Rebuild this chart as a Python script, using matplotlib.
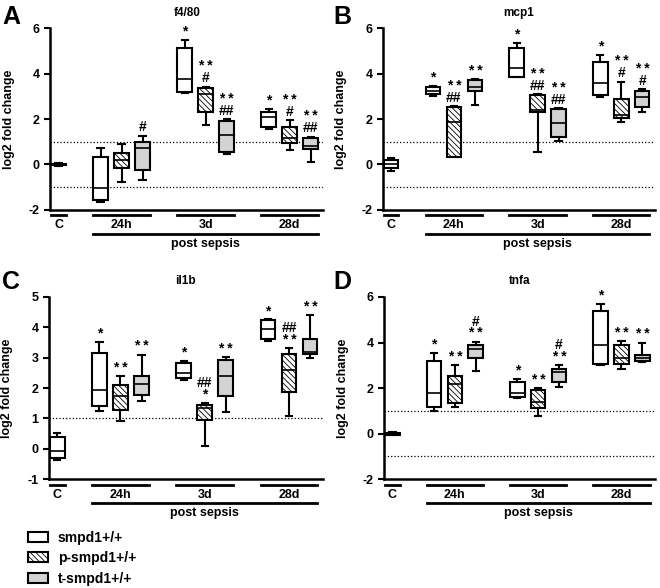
import matplotlib
matplotlib.use('Agg')
import matplotlib.pyplot as plt
import matplotlib.transforms as mtransforms
from matplotlib.patches import Patch

plt.rcParams['font.family'] = ['Liberation Sans', 'DejaVu Sans']
plt.rcParams['font.weight'] = 'bold'
plt.rcParams['hatch.linewidth'] = 0.6
plt.rcParams['axes.unicode_minus'] = False

# box order: C, 24h (wt, p, t), 3d (wt, p, t), 28d (wt, p, t)
# each entry: (whisker low, q1, median, q3, whisker high)
positions = [0, 2, 3, 4, 6, 7, 8, 10, 11, 12]
kinds = ['w', 'w', 'p', 't', 'w', 'p', 't', 'w', 'p', 't']

f480 = [(-0.06, -0.04, 0.0, 0.04, 0.06),
        (-1.63, -1.56, -1.05, 0.32, 0.72),
        (-0.75, -0.14, 0.20, 0.52, 0.91),
        (-0.68, -0.24, 0.72, 0.98, 1.26),
        (3.14, 3.21, 3.75, 5.12, 5.49),
        (1.73, 2.29, 3.09, 3.36, 3.43),
        (0.47, 0.57, 1.30, 1.90, 2.00),
        (1.55, 1.67, 2.08, 2.33, 2.43),
        (0.62, 0.94, 1.18, 1.66, 1.95),
        (0.10, 0.67, 0.83, 1.18, 1.23)]
f480_notes = ['', '', '', '#', '*', '**\n#', '**\n##', '*', '**\n#', '**\n##']

mcp1 = [(-0.27, -0.17, 0.03, 0.20, 0.27),
        (3.03, 3.09, 3.25, 3.40, 3.46),
        (0.32, 0.35, 1.89, 2.52, 2.58),
        (2.62, 3.25, 3.40, 3.72, 3.75),
        (3.84, 3.87, 4.27, 5.12, 5.34),
        (0.57, 2.33, 2.40, 3.06, 3.09),
        (1.05, 1.23, 1.82, 2.43, 2.48),
        (2.99, 3.06, 3.58, 4.53, 4.83),
        (1.85, 2.04, 2.18, 2.87, 3.65),
        (2.29, 2.52, 2.99, 3.25, 3.31)]
mcp1_notes = ['', '*', '**\n##', '**', '*', '**\n##', '**\n##', '*', '**\n#', '**\n#']

il1b = [(-0.37, -0.31, -0.07, 0.40, 0.51),
        (1.25, 1.41, 1.93, 3.14, 3.52),
        (0.92, 1.28, 1.74, 2.10, 2.39),
        (1.58, 1.77, 2.12, 2.39, 3.10),
        (2.26, 2.32, 2.50, 2.81, 2.90),
        (0.10, 0.95, 1.36, 1.44, 1.50),
        (1.22, 1.75, 2.39, 2.94, 3.01),
        (3.55, 3.60, 3.96, 4.23, 4.26),
        (1.09, 1.88, 2.59, 3.12, 3.32),
        (3.00, 3.12, 3.19, 3.60, 4.40)]
il1b_notes = ['', '*', '**', '**', '*', '##\n*', '**', '*', '##\n**', '**']

tnfa = [(-0.06, -0.04, 0.0, 0.04, 0.06),
        (1.00, 1.15, 1.80, 3.20, 3.55),
        (1.18, 1.33, 2.16, 2.53, 3.00),
        (2.74, 3.30, 3.71, 3.88, 4.03),
        (1.56, 1.59, 1.77, 2.27, 2.39),
        (0.77, 1.11, 1.37, 1.91, 1.99),
        (2.06, 2.25, 2.69, 2.85, 3.00),
        (3.00, 3.04, 3.88, 5.39, 5.68),
        (2.83, 3.04, 3.30, 3.88, 4.06),
        (3.15, 3.20, 3.34, 3.45, 3.99)]
tnfa_notes = ['', '*', '**', '#\n**', '*', '**', '#\n**', '*', '**', '**']

groups = [('C', -0.35, 0.35), ('24h', 1.65, 4.35), ('3d', 5.65, 8.35), ('28d', 9.65, 12.35)]
legend_labels = ['smpd1+/+', 'p-smpd1+/+', 't-smpd1+/+']

HATCH = '\\\\\\\\\\\\'
fill = {'w': ('white', None), 'p': ('white', HATCH), 't': ('#d3d3d3', None)}


def draw_panel(rect, stats, notes, ylim, yticks, title, letter, letter_xy, dotted):
    ax = fig.add_axes(rect)
    bstats = [{'whislo': s[0], 'q1': s[1], 'med': s[2], 'q3': s[3], 'whishi': s[4],
               'fliers': []} for s in stats]
    bp = ax.bxp(bstats, positions=positions, widths=0.7, patch_artist=True,
                showfliers=False, capwidths=0.3,
                boxprops=dict(linewidth=1.5, edgecolor='black'),
                medianprops=dict(color='black', linewidth=1.2),
                whiskerprops=dict(linewidth=1.5, color='black'),
                capprops=dict(linewidth=1.5, color='black'))
    for box, k in zip(bp['boxes'], kinds):
        fc, h = fill[k]
        box.set_facecolor(fc)
        if h:
            box.set_hatch(h)
    for x, s, n in zip(positions, stats, notes):
        if n:
            ax.annotate(n.replace('**', '* *'), (x, s[4]), xytext=(0, 1),
                        textcoords='offset points', ha='center', va='bottom',
                        fontsize=10, linespacing=0.8)
    for d in dotted:
        ax.axhline(d, ls=':', color='black', lw=0.9, zorder=0)

    ax.set_xlim(-0.4, 12.6)
    ax.set_ylim(*ylim)
    ax.set_yticks(yticks)
    ax.set_xticks([])
    ax.spines['top'].set_visible(False)
    ax.spines['right'].set_visible(False)
    ax.spines['left'].set_linewidth(1.8)
    ax.spines['bottom'].set_linewidth(1.8)
    ax.tick_params(axis='y', labelsize=9, width=1.5, length=4)
    ax.set_ylabel('log2 fold change', fontsize=9, fontweight='bold')
    ax.yaxis.set_label_coords(-0.13, 0.5)
    ax.set_title(title, fontsize=8.5, fontweight='bold', pad=9)

    trans = mtransforms.blended_transform_factory(ax.transData, ax.transAxes)
    for name, x0, x1 in groups:
        ax.plot([x0, x1], [-0.03, -0.03], transform=trans, clip_on=False,
                color='black', lw=2)
        ax.text((x0 + x1) / 2, -0.085, name, transform=trans, ha='center',
                va='center', fontsize=9)
    ax.plot([1.65, 12.35], [-0.13, -0.13], transform=trans, clip_on=False,
            color='black', lw=2)
    ax.text(7, -0.185, 'post sepsis', transform=trans, ha='center', va='center',
            fontsize=9)
    fig.text(letter_xy[0], letter_xy[1], letter, fontsize=18, fontweight='bold',
             va='top', ha='left')
    return ax


fig = plt.figure(figsize=(6.6, 5.88), dpi=100)

draw_panel([0.076, 0.643, 0.414, 0.309], f480, f480_notes, (-2, 6), [-2, 0, 2, 4, 6],
           'f4/80', 'A', (0.003, 0.992), [1, -1])
draw_panel([0.580, 0.643, 0.412, 0.309], mcp1, mcp1_notes, (-2, 6), [-2, 0, 2, 4, 6],
           'mcp1', 'B', (0.505, 0.992), [1, -1])
draw_panel([0.074, 0.185, 0.415, 0.310], il1b, il1b_notes, (-1, 5), [-1, 0, 1, 2, 3, 4, 5],
           'il1b', 'C', (0.003, 0.541), [1])
draw_panel([0.582, 0.185, 0.410, 0.310], tnfa, tnfa_notes, (-2, 6), [-2, 0, 2, 4, 6],
           'tnfa', 'D', (0.505, 0.541), [1, -1])

handles = [Patch(facecolor='white', edgecolor='black', lw=1.5),
           Patch(facecolor='white', edgecolor='black', lw=1.5, hatch=HATCH),
           Patch(facecolor='#d3d3d3', edgecolor='black', lw=1.5)]
fig.legend(handles, legend_labels, loc='upper left', bbox_to_anchor=(28 / 660, 1 - 531 / 588),
           frameon=False, fontsize=10, handlelength=1.45, handleheight=0.75,
           handletextpad=0.7, labelspacing=0.45, borderpad=0, borderaxespad=0)

fig.savefig('out.png', dpi=100)
